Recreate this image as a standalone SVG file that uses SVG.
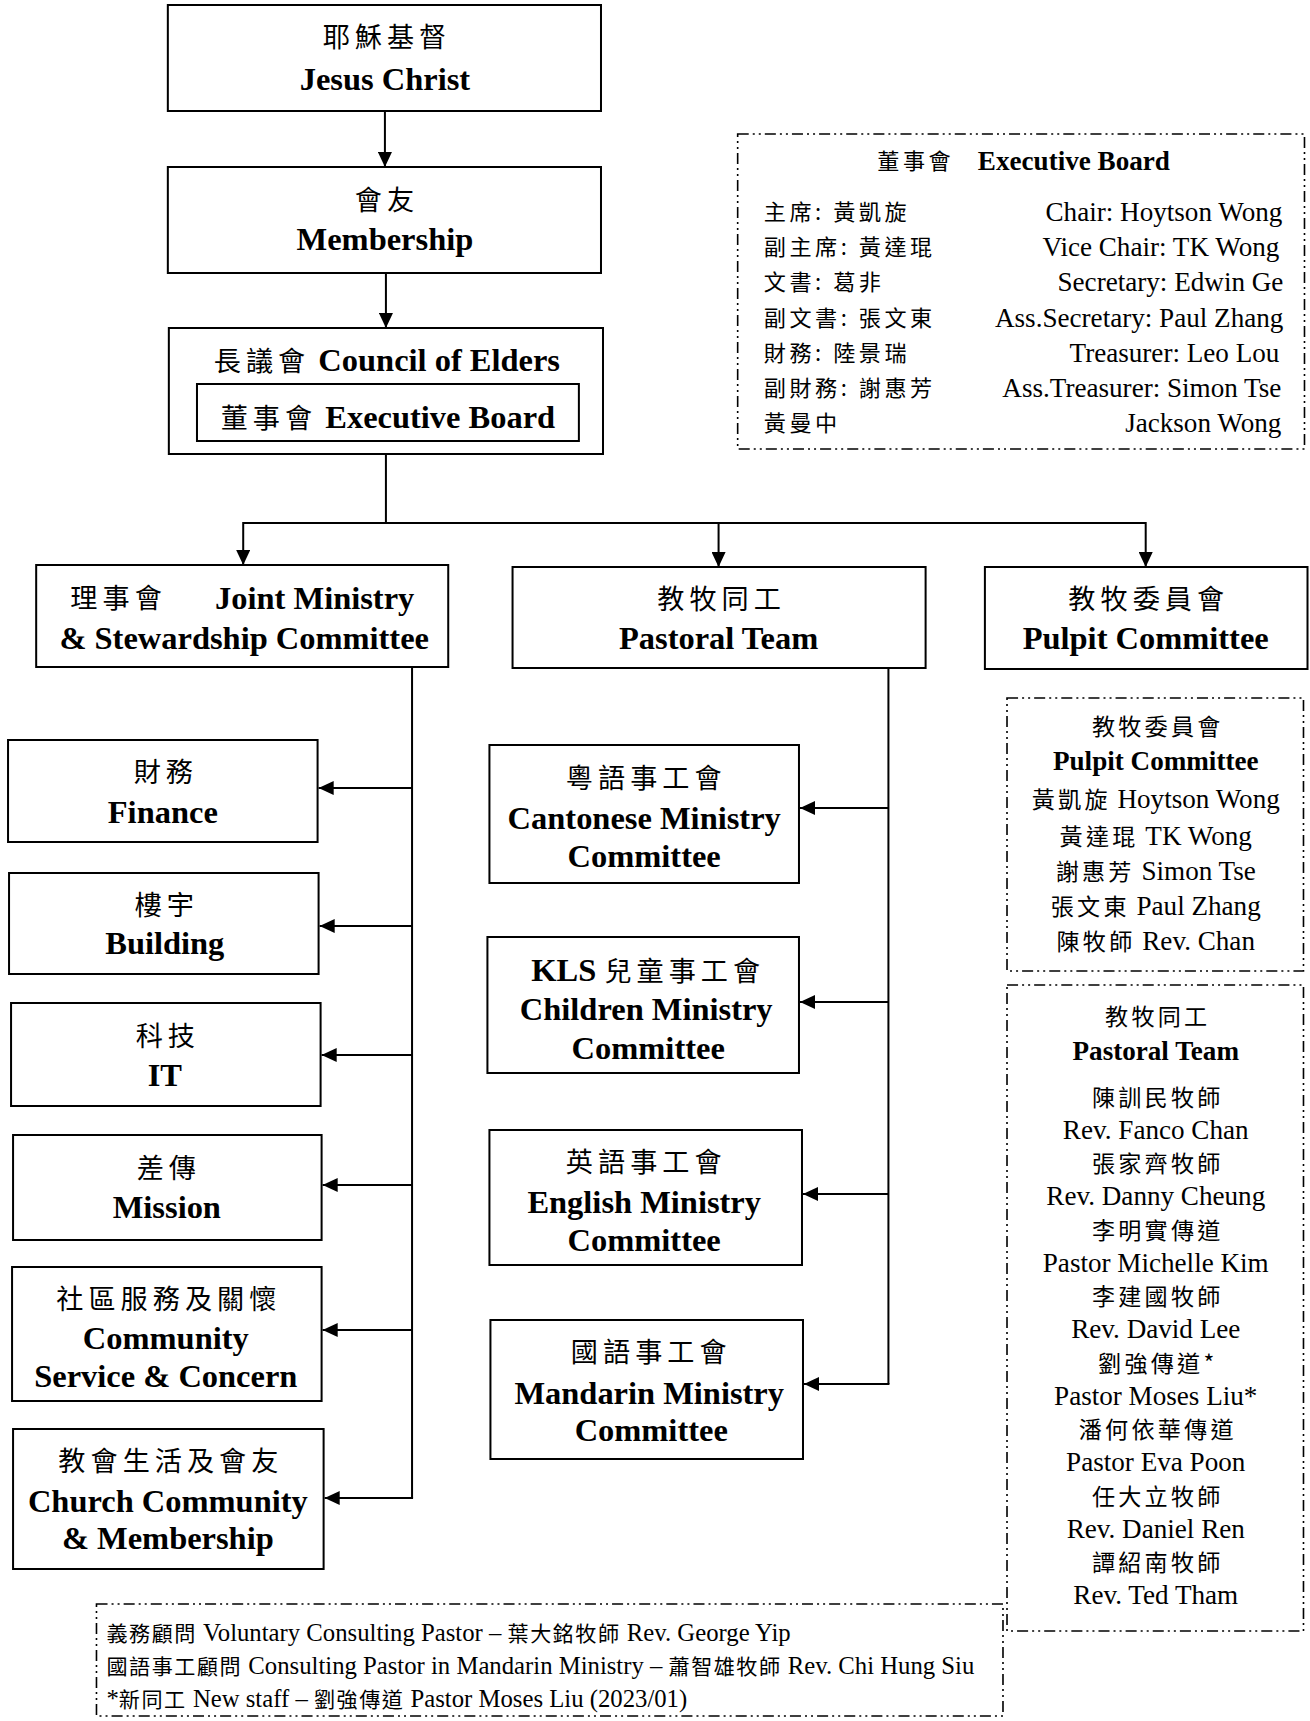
<svg xmlns="http://www.w3.org/2000/svg" width="1310" height="1721" viewBox="0 0 1310 1721">
<style>
.b{fill:#fff;stroke:#000;stroke-width:2}
.d{fill:none;stroke:#000;stroke-width:1.6;stroke-dasharray:11 4 2 4 2 4}
.ln{fill:none;stroke:#000;stroke-width:2}
text{fill:#000}
.mid{text-anchor:middle}
.end{text-anchor:end}
.m{font-family:"Liberation Serif","Times New Roman",serif;font-weight:bold;font-size:32.3px}
.c1{font-family:"Noto Sans CJK TC","Noto Sans CJK SC",sans-serif;font-weight:normal;font-size:27px;letter-spacing:5px}
.r{font-family:"Liberation Serif","Times New Roman",serif;font-size:27px}
.rb{font-family:"Liberation Serif","Times New Roman",serif;font-size:27px;font-weight:bold}
.c2{font-family:"Noto Sans CJK TC","Noto Sans CJK SC",sans-serif;font-size:23px;letter-spacing:3.2px}
.c3{font-family:"Noto Sans CJK TC","Noto Sans CJK SC",sans-serif;font-size:22px;letter-spacing:3.5px}
.n{font-family:"Liberation Serif","Times New Roman",serif;font-size:24.6px}
.c4{font-family:"Noto Sans CJK TC","Noto Sans CJK SC",sans-serif;font-size:21px;letter-spacing:1.5px}
</style>
<defs>
<marker id="arr" markerUnits="userSpaceOnUse" markerWidth="16" markerHeight="14" refX="15" refY="7" orient="auto">
<path d="M0,0 L15,7 L0,14 Z" fill="#000"/>
</marker>
</defs>
<rect width="1310" height="1721" fill="#fff"/>
<g transform="scale(1.005 1)">

<g id="connectors">
<line class="ln" x1="383" y1="111" x2="383" y2="167" marker-end="url(#arr)"/>
<line class="ln" x1="384" y1="273" x2="384" y2="328" marker-end="url(#arr)"/>
<line class="ln" x1="384" y1="454" x2="384" y2="523"/>
<line class="ln" x1="242" y1="523" x2="1140" y2="523"/>
<line class="ln" x1="242" y1="522" x2="242" y2="565" marker-end="url(#arr)"/>
<line class="ln" x1="715" y1="522" x2="715" y2="567" marker-end="url(#arr)"/>
<line class="ln" x1="1140" y1="522" x2="1140" y2="567" marker-end="url(#arr)"/>
<line class="ln" x1="410" y1="667" x2="410" y2="1498"/>
<line class="ln" x1="410" y1="788" x2="317" y2="788" marker-end="url(#arr)"/>
<line class="ln" x1="410" y1="926" x2="318" y2="926" marker-end="url(#arr)"/>
<line class="ln" x1="410" y1="1055" x2="320" y2="1055" marker-end="url(#arr)"/>
<line class="ln" x1="410" y1="1185" x2="321" y2="1185" marker-end="url(#arr)"/>
<line class="ln" x1="410" y1="1330" x2="321" y2="1330" marker-end="url(#arr)"/>
<line class="ln" x1="411" y1="1498" x2="323" y2="1498" marker-end="url(#arr)"/>
<line class="ln" x1="884" y1="668" x2="884" y2="1384"/>
<line class="ln" x1="884" y1="808" x2="796" y2="808" marker-end="url(#arr)"/>
<line class="ln" x1="884" y1="1002" x2="796" y2="1002" marker-end="url(#arr)"/>
<line class="ln" x1="884" y1="1194" x2="799" y2="1194" marker-end="url(#arr)"/>
<line class="ln" x1="885" y1="1384" x2="800" y2="1384" marker-end="url(#arr)"/>
</g>

<g id="jesus">
<rect class="b" x="167" y="5" width="431" height="106"/>
<text class="c1 mid" x="385" y="47">耶穌基督</text>
<text class="m mid" x="383" y="90">Jesus Christ</text>
</g>

<g id="membership">
<rect class="b" x="167" y="167" width="431" height="106"/>
<text class="c1 mid" x="385" y="210">會友</text>
<text class="m mid" x="383" y="250">Membership</text>
</g>

<g id="council">
<rect class="b" x="168" y="328" width="432" height="126"/>
<text class="mid" x="385" y="371"><tspan class="c1">長議會</tspan><tspan class="m"> Council of Elders</tspan></text>
<rect class="b" x="196" y="384" width="380" height="57"/>
<text class="mid" x="386" y="428"><tspan class="c1">董事會</tspan><tspan class="m"> Executive Board</tspan></text>
</g>

<g id="exec-board-list">
<rect class="d" x="734" y="134" width="564" height="315"/>
<text class="c3" x="873" y="169">董事會</text>
<text class="rb" x="973" y="170">Executive Board</text>
<text class="c3" x="760" y="220">主席: 黃凱旋</text>
<text class="c3" x="760" y="255">副主席: 黃達琨</text>
<text class="c3" x="760" y="290">文書: 葛非</text>
<text class="c3" x="760" y="326">副文書: 張文東</text>
<text class="c3" x="760" y="361">財務: 陸景瑞</text>
<text class="c3" x="760" y="396">副財務: 謝惠芳</text>
<text class="c3" x="760" y="431">黃曼中</text>
<text class="r end" x="1276" y="221">Chair: Hoytson Wong</text>
<text class="r end" x="1273" y="256">Vice Chair: TK Wong</text>
<text class="r end" x="1277" y="291">Secretary: Edwin Ge</text>
<text class="r end" x="1277" y="327">Ass.Secretary: Paul Zhang</text>
<text class="r end" x="1273" y="362">Treasurer: Leo Lou</text>
<text class="r end" x="1275" y="397">Ass.Treasurer: Simon Tse</text>
<text class="r end" x="1275" y="432">Jackson Wong</text>
</g>

<g id="joint-ministry">
<rect class="b" x="36" y="565" width="410" height="102"/>
<text class="c1" x="70" y="608">理事會</text>
<text class="m" x="214" y="609">Joint Ministry</text>
<text class="m mid" x="243" y="649">&amp; Stewardship Committee</text>
</g>

<g id="pastoral-team">
<rect class="b" x="510" y="567" width="411" height="101"/>
<text class="c1 mid" x="718" y="609">教牧同工</text>
<text class="m mid" x="715" y="649">Pastoral Team</text>
</g>

<g id="pulpit-committee">
<rect class="b" x="980" y="567" width="321" height="102"/>
<text class="c1 mid" x="1143" y="609">教牧委員會</text>
<text class="m mid" x="1140" y="649">Pulpit Committee</text>
</g>

<g id="finance">
<rect class="b" x="8" y="740" width="308" height="102"/>
<text class="c1 mid" x="165" y="782">財務</text>
<text class="m mid" x="162" y="823">Finance</text>
</g>

<g id="building">
<rect class="b" x="9" y="873" width="308" height="101"/>
<text class="c1 mid" x="166" y="915">樓宇</text>
<text class="m mid" x="164" y="954">Building</text>
</g>

<g id="it">
<rect class="b" x="11" y="1003" width="308" height="103"/>
<text class="c1 mid" x="167" y="1046">科技</text>
<text class="m mid" x="164" y="1086">IT</text>
</g>

<g id="mission">
<rect class="b" x="13" y="1135" width="307" height="105"/>
<text class="c1 mid" x="168" y="1178">差傳</text>
<text class="m mid" x="166" y="1218">Mission</text>
</g>

<g id="community">
<rect class="b" x="12" y="1267" width="308" height="134"/>
<text class="c1 mid" x="168" y="1309">社區服務及關懷</text>
<text class="m mid" x="165" y="1349">Community</text>
<text class="m mid" x="165" y="1387">Service &amp; Concern</text>
</g>

<g id="church-community">
<rect class="b" x="13" y="1429" width="309" height="140"/>
<text class="c1 mid" x="170" y="1471">教會生活及會友</text>
<text class="m mid" x="167" y="1512">Church Community</text>
<text class="m mid" x="167" y="1549">&amp; Membership</text>
</g>

<g id="cantonese">
<rect class="b" x="487" y="745" width="308" height="138"/>
<text class="c1 mid" x="643" y="788">粵語事工會</text>
<text class="m mid" x="641" y="829">Cantonese Ministry</text>
<text class="m mid" x="641" y="867">Committee</text>
</g>

<g id="children">
<rect class="b" x="485" y="937" width="310" height="136"/>
<text class="mid" x="645" y="981"><tspan class="m">KLS </tspan><tspan class="c1">兒童事工會</tspan></text>
<text class="m mid" x="643" y="1020">Children Ministry</text>
<text class="m mid" x="645" y="1059">Committee</text>
</g>

<g id="english">
<rect class="b" x="487" y="1130" width="311" height="135"/>
<text class="c1 mid" x="643" y="1172">英語事工會</text>
<text class="m mid" x="641" y="1213">English Ministry</text>
<text class="m mid" x="641" y="1251">Committee</text>
</g>

<g id="mandarin">
<rect class="b" x="488" y="1320" width="311" height="139"/>
<text class="c1 mid" x="648" y="1362">國語事工會</text>
<text class="m mid" x="646" y="1404">Mandarin Ministry</text>
<text class="m mid" x="648" y="1441">Committee</text>
</g>

<g id="pulpit-list">
<rect class="d" x="1002" y="698" width="295" height="273"/>
<text class="c2 mid" x="1152" y="735">教牧委員會</text>
<text class="rb mid" x="1150" y="770">Pulpit Committee</text>
<text class="mid" x="1150" y="808"><tspan class="c2">黃凱旋</tspan><tspan class="r"> Hoytson Wong</tspan></text>
<text class="mid" x="1150" y="845"><tspan class="c2">黃達琨</tspan><tspan class="r"> TK Wong</tspan></text>
<text class="mid" x="1150" y="880"><tspan class="c2">謝惠芳</tspan><tspan class="r"> Simon Tse</tspan></text>
<text class="mid" x="1150" y="915"><tspan class="c2">張文東</tspan><tspan class="r"> Paul Zhang</tspan></text>
<text class="mid" x="1150" y="950"><tspan class="c2">陳牧師</tspan><tspan class="r"> Rev. Chan</tspan></text>
</g>

<g id="pastoral-list">
<rect class="d" x="1002" y="985" width="295" height="646"/>
<text class="c2 mid" x="1152" y="1025">教牧同工</text>
<text class="rb mid" x="1150" y="1060">Pastoral Team</text>
<text class="c2 mid" x="1152" y="1106">陳訓民牧師</text>
<text class="r mid" x="1150" y="1139">Rev. Fanco Chan</text>
<text class="c2 mid" x="1152" y="1172">張家齊牧師</text>
<text class="r mid" x="1150" y="1205">Rev. Danny Cheung</text>
<text class="c2 mid" x="1152" y="1239">李明實傳道</text>
<text class="r mid" x="1150" y="1272">Pastor Michelle Kim</text>
<text class="c2 mid" x="1152" y="1305">李建國牧師</text>
<text class="r mid" x="1150" y="1338">Rev. David Lee</text>
<text class="c2 mid" x="1152" y="1372">劉強傳道*</text>
<text class="r mid" x="1150" y="1405">Pastor Moses Liu*</text>
<text class="c2 mid" x="1152" y="1438">潘何依華傳道</text>
<text class="r mid" x="1150" y="1471">Pastor Eva Poon</text>
<text class="c2 mid" x="1152" y="1505">任大立牧師</text>
<text class="r mid" x="1150" y="1538">Rev. Daniel Ren</text>
<text class="c2 mid" x="1152" y="1571">譚紹南牧師</text>
<text class="r mid" x="1150" y="1604">Rev. Ted Tham</text>
</g>

<g id="notes">
<rect class="d" x="96" y="1604" width="902" height="112"/>
<text x="106" y="1641"><tspan class="c4">義務顧問</tspan><tspan class="n"> Voluntary Consulting Pastor – </tspan><tspan class="c4">葉大銘牧師</tspan><tspan class="n"> Rev. George Yip</tspan></text>
<text x="106" y="1674"><tspan class="c4">國語事工顧問</tspan><tspan class="n"> Consulting Pastor in Mandarin Ministry – </tspan><tspan class="c4">蕭智雄牧師</tspan><tspan class="n"> Rev. Chi Hung Siu</tspan></text>
<text x="106" y="1707"><tspan class="n">*</tspan><tspan class="c4">新同工</tspan><tspan class="n"> New staff – </tspan><tspan class="c4">劉強傳道</tspan><tspan class="n"> Pastor Moses Liu (2023/01)</tspan></text>
</g>
</g>
</svg>
